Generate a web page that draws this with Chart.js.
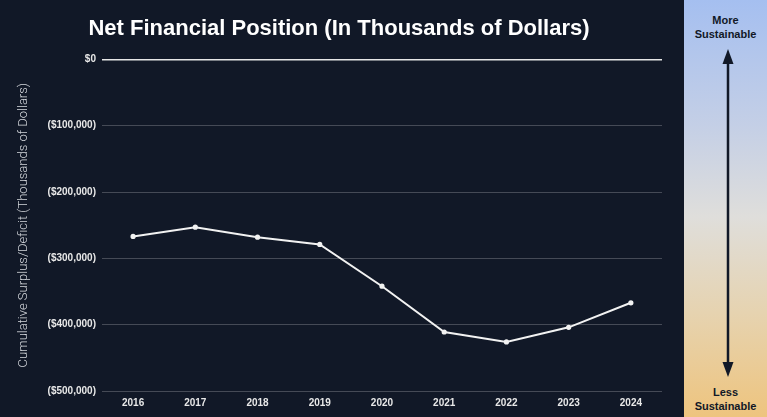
<!doctype html>
<html lang="en">
  <head>
    <meta charset="utf-8">
    <title>Net Financial Position</title>
    <style>
      * { margin: 0; padding: 0; }
      body {
        width: 767px;
        height: 417px;
        background: #111827;
        display: flex;
        overflow: hidden;
        font-family: "Liberation Sans", Arial, sans-serif;
      }
      .chartBox {
        width: 684px;
        height: 417px;
        position: relative;
      }
      .sidePanel {
        width: 83px;
        height: 417px;
        position: relative;
        background: linear-gradient(to bottom, #a5bff0 0%, #c4cfe6 30%, #dfdedb 52%, #e6d3b0 75%, #eec47e 100%);
        color: #111827;
        font-weight: bold;
        font-size: 11px;
        text-align: center;
        line-height: 14px;
      }
      .sidePanel .top { position: absolute; top: 13px; width: 100%; }
      .sidePanel .bottom { position: absolute; top: 385px; width: 100%; }
      .sidePanel svg { position: absolute; left: 0; top: 0; }
    </style>
  </head>
  <body>
    <div class="chartBox">
      <canvas id="myChart"></canvas>
    </div>
    <div class="sidePanel">
      <div class="top">More<br>Sustainable</div>
      <svg width="83" height="417">
        <line x1="44" y1="60" x2="44" y2="366" stroke="#111827" stroke-width="2.5"/>
        <polygon points="44,49 38.5,64 49.5,64" fill="#111827"/>
        <polygon points="44,377 38.5,362 49.5,362" fill="#111827"/>
      </svg>
      <div class="bottom">Less<br>Sustainable</div>
    </div>
    <script src="https://cdn.jsdelivr.net/npm/chart.js/dist/chart.umd.min.js"></script>
    <script>
    // data
    const years = ['2016', '2017', '2018', '2019', '2020', '2021', '2022', '2023', '2024'];
    const netPosition = [-267000, -253000, -268000, -279000, -342000, -411000, -426000, -404000, -367000];
    const yTicks = [0, -100000, -200000, -300000, -400000, -500000];

    function money(v) {
      const s = '$' + Math.abs(v).toLocaleString('en-US');
      return v < 0 ? '(' + s + ')' : s;
    }

    const data = {
      labels: years,
      datasets: [{
        label: 'Net Financial Position',
        data: netPosition,
        borderColor: '#f2f2f2',
        backgroundColor: '#f2f2f2',
        borderWidth: 2,
        pointRadius: 1.6,
        pointHoverRadius: 3,
        tension: 0
      }]
    };

    const config = {
      type: 'line',
      data,
      options: {
        responsive: false,
        animation: false,
        layout: { padding: { top: 12, right: 22, bottom: 2, left: 16 } },
        plugins: {
          legend: { display: false },
          tooltip: { enabled: false },
          title: {
            display: true,
            text: 'Net Financial Position (In Thousands of Dollars)',
            color: '#ffffff',
            font: { family: 'Liberation Sans, Arial, sans-serif', size: 22, weight: 'bold' },
            padding: { top: 4, bottom: 17 }
          }
        },
        scales: {
          x: {
            offset: true,
            grid: { display: false, drawTicks: false },
            border: { display: false },
            ticks: {
              color: '#e8e8e8',
              padding: 6,
              font: { family: 'Liberation Sans, Arial, sans-serif', size: 10, weight: 'bold' }
            }
          },
          y: {
            min: -500000,
            max: 0,
            afterBuildTicks: (axis) => { axis.ticks = yTicks.map(v => ({ value: v })); },
            grid: {
              drawTicks: false,
              color: (ctx) => ctx.tick && ctx.tick.value === 0 ? '#e6e6e6' : 'rgba(255,255,255,0.22)',
              lineWidth: (ctx) => ctx.tick && ctx.tick.value === 0 ? 1.5 : 1
            },
            border: { display: false },
            ticks: {
              color: '#e8e8e8',
              padding: 6,
              font: { family: 'Liberation Sans, Arial, sans-serif', size: 10, weight: 'bold' },
              callback: (v) => money(v)
            },
            title: {
              display: true,
              text: 'Cumulative Surplus/Deficit (Thousands of Dollars)',
              color: '#d4d7dc',
              font: { family: 'Roboto, sans-serif', size: 13, weight: 300 },
              padding: { top: 0, bottom: 10 }
            }
          }
        }
      }
    };

    const canvas = document.getElementById('myChart');
    canvas.width = 684;
    canvas.height = 417;
    const myChart = new Chart(canvas, config);
    </script>
  </body>
</html>
